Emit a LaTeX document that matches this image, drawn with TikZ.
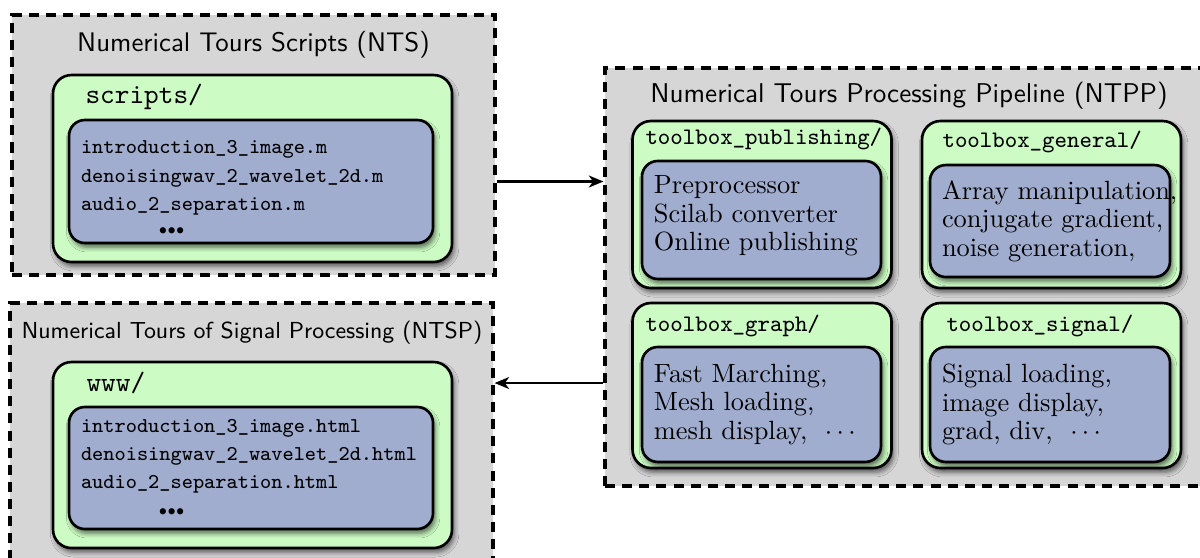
\documentclass[tikz,border=0pt]{standalone}
\usetikzlibrary{shadows.blur,arrows.meta}

\definecolor{tourgray}{RGB}{214,214,214}
\definecolor{tourgreen}{RGB}{204,252,196}
\definecolor{tourblue}{RGB}{160,173,206}

\begin{document}
\begin{tikzpicture}[
    group/.style={draw, fill=tourgray, line width=1.2pt, dash pattern=on 3.8pt off 2.7pt},
    grouptitle/.style={font=\sffamily\fontsize{10.2}{12}\selectfont},
    folder/.style={draw, fill=tourgreen, rounded corners=7pt, line width=1pt,
        blur shadow={shadow xshift=0.8pt, shadow yshift=-1.6pt, shadow blur radius=1.8pt, shadow opacity=60}},
    files/.style={draw, fill=tourblue, rounded corners=6pt, line width=1pt, align=left,
        inner xsep=0.16cm, inner ysep=2pt,
        blur shadow={shadow xshift=0.8pt, shadow yshift=-1.6pt, shadow blur radius=1.8pt, shadow opacity=60}},
    dirname/.style={anchor=west, inner sep=0pt, font=\ttfamily\small},
    flow/.style={-{Stealth[length=5.5pt,width=4.5pt,inset=1.6pt]}, line width=1.1pt}
  ]
  \useasboundingbox (0,0) rectangle (16,-7.4267);

  % scripts side
  \node[group, minimum width=6.44cm, minimum height=3.467cm] (nts) at (3.38,-1.933) {};
  \node[grouptitle] (ntstitle) at (3.38,-0.6) {Numerical Tours Scripts (NTS)};
  \node[folder, minimum width=5.32cm, minimum height=2.493cm] (scripts) at (3.367,-2.247) {};
  \node[dirname, font=\ttfamily\fontsize{10.6}{12}\selectfont] (scriptsname) at (1.133,-1.293) {scripts/};
  \node[files, text width=4.533cm, minimum height=1.64cm, font=\ttfamily\fontsize{8}{10.8}\selectfont] (ntsfiles) at (3.347,-2.42)
    {\rule{0pt}{10pt}introduction\_3\_image.m\\denoisingwav\_2\_wavelet\_2d.m\\audio\_2\_separation.m\\[-1.5pt]
     \hspace*{29pt}\textbullet\kern-1pt\textbullet\kern-1pt\textbullet};

  % web side
  \node[group, minimum width=6.44cm, minimum height=3.467cm] (ntsp) at (3.353,-5.773) {};
  \node[grouptitle, font=\sffamily\fontsize{8.8}{11}\selectfont] (ntsptitle) at (3.36,-4.44) {Numerical Tours of Signal Processing (NTSP)};
  \node[folder, minimum width=5.32cm, minimum height=2.48cm] (www) at (3.367,-6.067) {};
  \node[dirname, font=\ttfamily\fontsize{10.6}{12}\selectfont] (wwwname) at (1.147,-5.107) {www/};
  \node[files, text width=4.533cm, minimum height=1.627cm, font=\ttfamily\fontsize{8}{10.6}\selectfont] (ntspfiles) at (3.347,-6.24)
    {introduction\_3\_image.html\\denoisingwav\_2\_wavelet\_2d.html\\audio\_2\_separation.html\\
     \hspace*{29pt}\textbullet\kern-1pt\textbullet\kern-1pt\textbullet};

  % pipeline
  \node[group, minimum width=7.973cm, minimum height=5.573cm] (ntpp) at (12.053,-3.693) {};
  \node[grouptitle, font=\sffamily\fontsize{10.3}{12}\selectfont] (ntpptitle) at (12.12,-1.28) {Numerical Tours Processing Pipeline (NTPP)};
  %
  \node[folder, minimum width=3.453cm, minimum height=2.227cm] (publishing) at (10.16,-2.727) {};
  \node[folder, minimum width=3.453cm, minimum height=2.227cm] (general) at (14.02,-2.727) {};
  \node[folder, minimum width=3.453cm, minimum height=2.2cm] (graph) at (10.16,-5.14) {};
  \node[folder, minimum width=3.453cm, minimum height=2.2cm] (signal) at (14.02,-5.14) {};
  %
  \node[dirname] (publishingname) at (8.6,-1.853) {toolbox\_publishing/};
  \node[dirname] (generalname) at (12.56,-1.893) {toolbox\_general/};
  \node[dirname] (graphname) at (8.6,-4.347) {toolbox\_graph/};
  \node[dirname] (signalname) at (12.613,-4.347) {toolbox\_signal/};
  %
  \node[files, text width=2.867cm, minimum height=1.573cm, font=\fontsize{10}{10.8}\selectfont] (publishingtools) at (10.153,-2.933)
    {Preprocessor\\Scilab converter\\Online publishing\rule[-5pt]{0pt}{5pt}};
  \node[files, text width=2.88cm, minimum height=1.493cm, font=\fontsize{10}{10.8}\selectfont] (generaltools) at (14.0,-2.947)
    {\mbox{Array manipulation,}\\\mbox{conjugate gradient,}\\\mbox{noise generation,}};
  \node[files, text width=2.867cm, minimum height=1.533cm, font=\fontsize{10}{10.8}\selectfont] (graphtools) at (10.153,-5.393)
    {Fast Marching,\\Mesh loading,\\mesh display, ~$\cdots$};
  \node[files, text width=2.88cm, minimum height=1.533cm, font=\fontsize{10}{10.8}\selectfont] (signaltools) at (14.0,-5.393)
    {Signal loading,\\image display,\\grad, div, ~$\cdots$};

  % flow between the parts
  \draw[flow] (nts.east |- ntsfiles) -- (ntpp.west |- ntsfiles);
  \draw[flow] (ntpp.west |- wwwname) -- (ntsp.east |- wwwname);

\end{tikzpicture}
\end{document}
